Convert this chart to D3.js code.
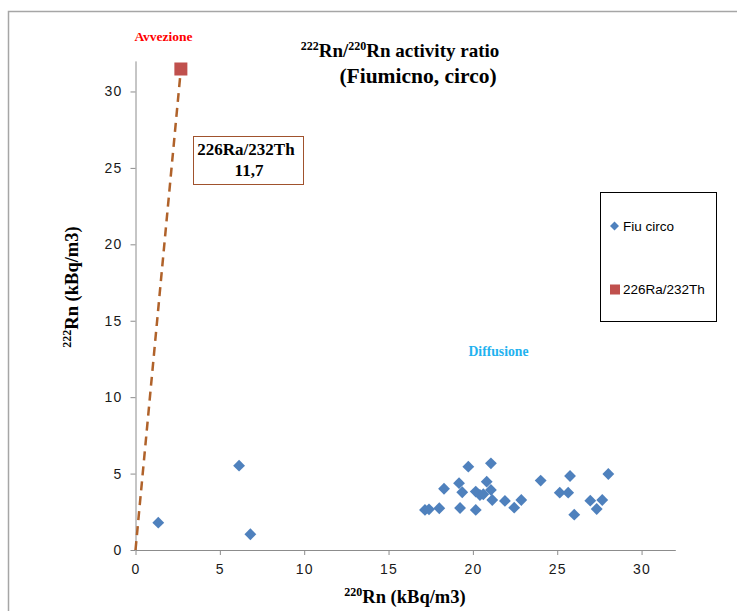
<!DOCTYPE html>
<html>
<head>
<meta charset="utf-8">
<script src="https://cdn.jsdelivr.net/npm/d3@7"></script>
<style>
  html, body { margin: 0; padding: 0; background: #fff; }
  svg { display: block; }
</style>
</head>
<body>
<svg id="chart" width="737" height="611"></svg>
<script>
// 220Rn (x) and 222Rn (y) concentrations, kBq/m3 — Fiumicino, circo
const fiuX = [1.35, 6.14, 6.81, 17.16, 17.40, 18.01, 18.29, 19.18, 19.37, 19.24,
              19.73, 20.17, 20.17, 20.42, 20.62, 20.82, 21.07, 21.07, 21.15, 21.90,
              22.45, 22.87, 24.02, 25.15, 25.65, 25.76, 26.01, 26.96, 27.34, 27.67, 28.03];
const fiuY = [1.79, 5.52, 1.03, 2.62, 2.66, 2.73, 4.01, 4.37, 3.78, 2.75,
              5.45, 3.82, 2.62, 3.60, 3.65, 4.47, 5.67, 3.93, 3.27, 3.21,
              2.77, 3.27, 4.54, 3.75, 3.75, 4.84, 2.31, 3.23, 2.68, 3.27, 4.97];

// 226Ra/232Th reference point and the ratio line through the origin
const raThX = [0, 2.69];
const raThY = [0, 31.47];
const ratioLabel = "11,7";

const xTicks = [0, 5, 10, 15, 20, 25, 30];
const yTicks = [0, 5, 10, 15, 20, 25, 30];
const seriesNames = ["Fiu circo", "226Ra/232Th"];

const svg = d3.select("#chart");
const serif = "'Liberation Serif', 'Times New Roman', serif";
const sans = "'Liberation Sans', Arial, sans-serif";

// outer chart frame (top and left edges)
svg.append("path")
  .attr("d", "M8.5,611 L8.5,11.5 L737,11.5")
  .attr("fill", "none").attr("stroke", "#a6a6a6").attr("stroke-width", 1.5);

const x = d3.scaleLinear().domain([0, 32]).range([135.5, 675.3]);
const y = d3.scaleLinear().domain([0, 32]).range([550, 60.9]);

// axes
const xAxis = svg.append("g").attr("transform", `translate(0,${y(0)})`)
  .call(d3.axisBottom(x).tickValues(xTicks).tickSize(5).tickSizeOuter(0).tickPadding(9));
const yAxis = svg.append("g").attr("transform", `translate(${x(0)},0)`)
  .call(d3.axisLeft(y).tickValues(yTicks).tickSize(5).tickSizeOuter(0).tickPadding(8));
[xAxis, yAxis].forEach(g => {
  g.select(".domain").attr("stroke", "#8c8c8c").attr("stroke-width", 1);
  g.selectAll(".tick line").attr("stroke", "#8c8c8c");
  g.selectAll(".tick text").attr("fill", "#1a1a1a").style("font-family", sans)
    .style("font-size", "14px").style("letter-spacing", "1.2px");
});

// ratio line
const lineData = raThX.map((v, i) => [v, raThY[i]]);
svg.append("path")
  .datum(lineData)
  .attr("d", d3.line().x(d => x(d[0])).y(d => y(d[1])))
  .attr("fill", "none").attr("stroke", "#b0622a").attr("stroke-width", 2.5)
  .attr("stroke-dasharray", "9,6");

// diamonds
svg.append("g").selectAll("path")
  .data(fiuX.map((v, i) => [v, fiuY[i]]))
  .join("path")
  .attr("d", d3.symbol().type(d3.symbolSquare).size(70))
  .attr("transform", d => `translate(${x(d[0])},${y(d[1])}) rotate(45)`)
  .attr("fill", "#4f81bd");

// 226Ra/232Th square
svg.append("rect")
  .attr("x", x(raThX[1]) - 6.5).attr("y", y(raThY[1]) - 6.5)
  .attr("width", 13).attr("height", 13)
  .attr("fill", "#c0504d");

// title
const title = svg.append("text").attr("text-anchor", "middle")
  .style("font-family", serif).style("font-weight", "bold").attr("fill", "#000");
const t1 = title.append("tspan").attr("x", 400).attr("y", 57).style("font-size", "19px");
t1.append("tspan").attr("font-size", "12px").attr("dy", -7).text("222");
t1.append("tspan").attr("dy", 7).text("Rn/");
t1.append("tspan").attr("font-size", "12px").attr("dy", -7).text("220");
t1.append("tspan").attr("dy", 7).text("Rn activity ratio");
title.append("tspan").attr("x", 418).attr("y", 83).style("font-size", "21.5px").text("(Fiumicno, circo)");

// axis titles
const xt = svg.append("text").attr("text-anchor", "middle").attr("x", 405).attr("y", 603)
  .style("font-family", serif).style("font-weight", "bold").style("font-size", "18.5px");
xt.append("tspan").attr("font-size", "12px").attr("dy", -7).text("220");
xt.append("tspan").attr("dy", 7).text("Rn (kBq/m3)");

const yt = svg.append("text").attr("text-anchor", "middle")
  .attr("transform", "translate(78,287) rotate(-90)")
  .style("font-family", serif).style("font-weight", "bold").style("font-size", "18.5px");
yt.append("tspan").attr("font-size", "12px").attr("dy", -7).text("222");
yt.append("tspan").attr("dy", 7).text("Rn (kBq/m3)");

// region labels
svg.append("text").attr("x", 163.5).attr("y", 41).attr("text-anchor", "middle")
  .style("font-family", serif).style("font-weight", "bold").style("font-size", "13.5px")
  .attr("fill", "#ff0000").text("Avvezione");
svg.append("text").attr("x", 498.5).attr("y", 356).attr("text-anchor", "middle")
  .style("font-family", serif).style("font-weight", "bold").style("font-size", "13.7px")
  .attr("fill", "#1fb2ef").text("Diffusione");

// ratio annotation box
svg.append("rect").attr("x", 193.5).attr("y", 136.5).attr("width", 110).attr("height", 48)
  .attr("fill", "#fff").attr("stroke", "#a0522d").attr("stroke-width", 1);
svg.append("text").attr("x", 246).attr("y", 155).attr("text-anchor", "middle")
  .style("font-family", serif).style("font-weight", "bold").style("font-size", "17px")
  .text(seriesNames[1]);
svg.append("text").attr("x", 249).attr("y", 176).attr("text-anchor", "middle")
  .style("font-family", serif).style("font-weight", "bold").style("font-size", "17px")
  .text(ratioLabel);

// legend
const lg = svg.append("g");
lg.append("rect").attr("x", 600.5).attr("y", 192.5).attr("width", 116).attr("height", 129)
  .attr("fill", "#fff").attr("stroke", "#000").attr("stroke-width", 1);
lg.append("path").attr("d", d3.symbol().type(d3.symbolSquare).size(40))
  .attr("transform", "translate(614.5,226) rotate(45)").attr("fill", "#4f81bd");
lg.append("text").attr("x", 623).attr("y", 231).style("font-family", sans).style("font-size", "13.5px")
  .text(seriesNames[0]);
lg.append("rect").attr("x", 610).attr("y", 284.5).attr("width", 10).attr("height", 10).attr("fill", "#c0504d");
lg.append("text").attr("x", 623).attr("y", 294).style("font-family", sans).style("font-size", "13.5px")
  .text(seriesNames[1]);
</script>
</body>
</html>
